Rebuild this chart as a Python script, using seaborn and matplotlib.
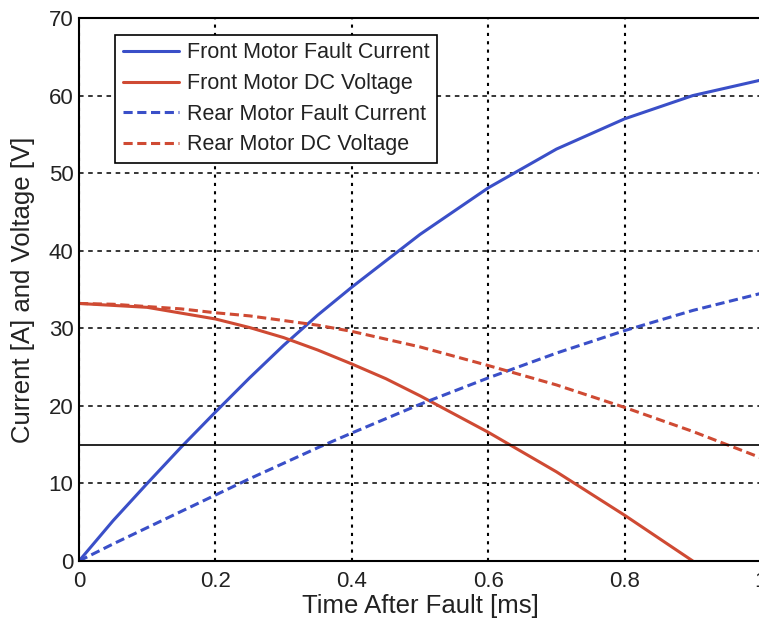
import seaborn as sns
import matplotlib.pyplot as plt

# time grid (ms)
t = [0, 0.05, 0.1, 0.15, 0.2, 0.25, 0.3, 0.35, 0.4, 0.5, 0.6, 0.7, 0.8, 0.9, 1.0]

front_current = [0, 5.2, 10.0, 14.7, 19.2, 23.6, 27.8, 31.7, 35.3, 42.1, 48.1, 53.1, 57.0, 60.0, 62.0]
rear_current = [0, 2.2, 4.3, 6.4, 8.5, 10.6, 12.6, 14.6, 16.5, 20.2, 23.6, 26.8, 29.7, 32.3, 34.5]
rear_voltage = [33.2, 33.1, 32.8, 32.5, 32.0, 31.6, 31.0, 30.4, 29.6, 27.6, 25.2, 22.7, 19.8, 16.7, 13.3]

t_fv = [0, 0.1, 0.2, 0.25, 0.3, 0.35, 0.4, 0.45, 0.5, 0.6, 0.7, 0.8, 0.9]
front_voltage = [33.2, 32.7, 31.2, 30.1, 28.8, 27.2, 25.4, 23.5, 21.3, 16.6, 11.5, 5.9, 0.0]

threshold = 15

blue = '#3a4fc8'
red = '#cf4a33'

sns.set_style('white')
plt.rcParams['font.family'] = ['Liberation Sans', 'DejaVu Sans']

fig = plt.figure(figsize=(7.59, 6.25), dpi=100)
ax = fig.add_axes([79 / 759, 64 / 625, 682 / 759, 543 / 625])

sns.lineplot(x=t, y=front_current, ax=ax, color=blue, lw=2.2, label='Front Motor Fault Current')
sns.lineplot(x=t_fv, y=front_voltage, ax=ax, color=red, lw=2.2, label='Front Motor DC Voltage')
sns.lineplot(x=t, y=rear_current, ax=ax, color=blue, lw=2.2, ls=(0, (3, 1.5)), label='Rear Motor Fault Current')
sns.lineplot(x=t, y=rear_voltage, ax=ax, color=red, lw=2.2, ls=(0, (3, 1.5)), label='Rear Motor DC Voltage')
ax.axhline(threshold, color='black', lw=1.2)

ax.set_xlim(0, 1)
ax.set_ylim(0, 70)
ax.set_xticks([0, 0.2, 0.4, 0.6, 0.8, 1.0])
ax.set_xticklabels(['0', '0.2', '0.4', '0.6', '0.8', '1'])
ax.set_yticks(range(0, 71, 10))

ax.grid(True, axis='y', color='black', ls=(0, (3, 3)), lw=1.1)
ax.grid(True, axis='x', color='black', ls=(0, (1.5, 2.5)), lw=1.5)
ax.set_axisbelow(True)

for s in ['left', 'bottom', 'top']:
    ax.spines[s].set_color('black')
    ax.spines[s].set_linewidth(1.5)
ax.spines['right'].set_visible(False)

ax.tick_params(axis='both', direction='in', length=6, width=1.2, labelsize=16,
               colors='#222222')
ax.tick_params(axis='x', pad=7)
ax.tick_params(axis='y', pad=4)
ax.set_xlabel('Time After Fault [ms]', fontsize=18.5, labelpad=2, color='#222222')
ax.set_ylabel('Current [A] and Voltage [V]', fontsize=18.5, labelpad=10, color='#222222')

leg = ax.legend(loc='upper left', bbox_to_anchor=(0.053, 0.969), fontsize=15.5,
                frameon=True, fancybox=False, edgecolor='black', framealpha=1,
                borderpad=0.35, labelspacing=0.45, handlelength=2.6, handletextpad=0.4,
                borderaxespad=0)
for text in leg.get_texts():
    text.set_color('#222222')
leg.get_frame().set_linewidth(1.2)

fig.savefig('out.png', dpi=100)
